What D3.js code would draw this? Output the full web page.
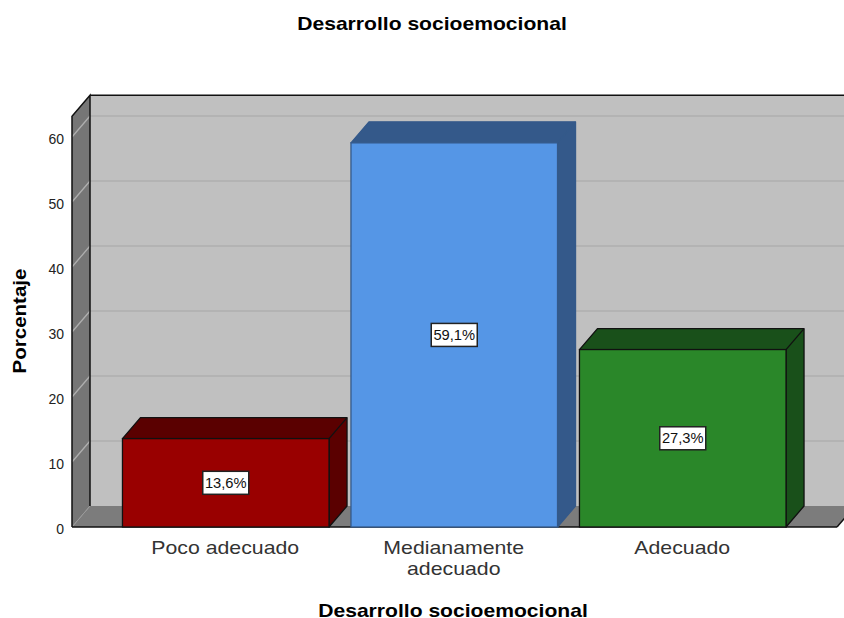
<!DOCTYPE html>
<html>
<head>
<meta charset="utf-8">
<script src="https://cdn.jsdelivr.net/npm/d3@7"></script>
<style>
  html, body { margin: 0; padding: 0; background: #fff; overflow: hidden; }
  text { font-family: "Liberation Sans", Arial, sans-serif; }
</style>
</head>
<body>
<div id="chart"></div>
<script>
var categories = [["Poco adecuado"], ["Medianamente", "adecuado"], ["Adecuado"]];
var values = [13.6, 59.1, 27.3];
var valueLabels = ["13,6%", "59,1%", "27,3%"];
var yTicks = [0, 10, 20, 30, 40, 50, 60];
var frontColors = ["#990000", "#5596e6", "#2a8729"];
var sideColors = ["#5a0000", "#34598a", "#19501a"];
var edgeColors = ["#111", "#34598a", "#111"];

var width = 844, height = 618;
var depthX = 18, depthY = 21; // 3d offset of the back wall
var left = 72, right = 837, bottom = 527;

var svg = d3.select("#chart").append("svg")
	.attr("width", width)
	.attr("height", height);

var y = d3.scaleLinear().domain([0, 60]).range([bottom, 137]);
var top_ = y(63.2);

var x = d3.scaleBand()
	.domain(d3.range(categories.length))
	.range([111.5, 797])
	.paddingInner(0.096)
	.paddingOuter(0.048);

function poly(pts) { return d3.line()(pts) + "Z"; }

// the reference text is wider than the installed font at the same height
function stretch(sel, factor) {
	sel.each(function() {
		d3.select(this)
			.attr("textLength", this.getComputedTextLength() * factor)
			.attr("lengthAdjust", "spacingAndGlyphs");
	});
	return sel;
}

// back wall, side wall, floor
svg.append("path")
	.attr("d", poly([[left + depthX, top_ - depthY], [right + depthX, top_ - depthY], [right + depthX, bottom - depthY], [left + depthX, bottom - depthY]]))
	.attr("fill", "#c0c0c0");
svg.append("path")
	.attr("d", poly([[left, top_], [left + depthX, top_ - depthY], [left + depthX, bottom - depthY], [left, bottom]]))
	.attr("fill", "#767676");
svg.append("path")
	.attr("d", poly([[left, bottom], [left + depthX, bottom - depthY], [right + depthX, bottom - depthY], [right, bottom]]))
	.attr("fill", "#7c7c7c");

// gridlines go along the side wall and then across the back
yTicks.slice(1).forEach(function(t) {
	svg.append("path")
		.attr("d", d3.line()([[left, y(t)], [left + depthX, y(t) - depthY], [right + depthX, y(t) - depthY]]))
		.attr("fill", "none")
		.attr("stroke", "#aeaeae")
		.attr("stroke-width", 1.3);
});
svg.append("line")
	.attr("x1", left).attr("y1", bottom)
	.attr("x2", left + depthX).attr("y2", bottom - depthY)
	.attr("stroke", "#9a9a9a");

// wall outlines
svg.append("path")
	.attr("d", d3.line()([[left, bottom], [left, top_], [left + depthX, top_ - depthY], [left + depthX, bottom - depthY]]))
	.attr("fill", "none")
	.attr("stroke", "#111")
	.attr("stroke-width", 1.5);
svg.append("line")
	.attr("x1", left + depthX).attr("y1", top_ - depthY)
	.attr("x2", width).attr("y2", top_ - depthY)
	.attr("stroke", "#111")
	.attr("stroke-width", 1.5);
svg.append("line")
	.attr("x1", left).attr("y1", bottom)
	.attr("x2", right).attr("y2", bottom)
	.attr("stroke", "#111")
	.attr("stroke-width", 1.5);
svg.append("line")
	.attr("x1", right).attr("y1", bottom)
	.attr("x2", right + depthX).attr("y2", bottom - depthY)
	.attr("stroke", "#111")
	.attr("stroke-width", 1.5);

// bars
var bars = svg.selectAll("g.bar")
	.data(values)
	.enter().append("g")
	.attr("class", "bar");

bars.append("path")
	.attr("d", function(d, i) {
		var x0 = x(i), x1 = x0 + x.bandwidth(), yt = y(d);
		return poly([[x0, yt], [x0 + depthX, yt - depthY], [x1 + depthX, yt - depthY], [x1 + depthX, bottom - depthY], [x1, bottom], [x1, yt]]);
	})
	.attr("fill", function(d, i) { return sideColors[i]; })
	.attr("stroke", function(d, i) { return edgeColors[i]; })
	.attr("stroke-width", 1.3)
	.attr("stroke-linejoin", "round");
bars.append("line")
	.attr("x1", function(d, i) { return x(i) + x.bandwidth(); })
	.attr("y1", function(d) { return y(d); })
	.attr("x2", function(d, i) { return x(i) + x.bandwidth() + depthX; })
	.attr("y2", function(d) { return y(d) - depthY; })
	.attr("stroke", function(d, i) { return edgeColors[i]; })
	.attr("stroke-width", 1.3);
bars.append("rect")
	.attr("x", function(d, i) { return x(i); })
	.attr("y", function(d) { return y(d); })
	.attr("width", x.bandwidth())
	.attr("height", function(d) { return bottom - y(d); })
	.attr("fill", function(d, i) { return frontColors[i]; })
	.attr("stroke", function(d, i) { return edgeColors[i]; })
	.attr("stroke-width", 1.3);

// value labels in the middle of each bar
bars.append("rect")
	.attr("x", function(d, i) { return x(i) + x.bandwidth() / 2 - 23; })
	.attr("y", function(d) { return (y(d) + bottom) / 2 - 11.5; })
	.attr("width", 46)
	.attr("height", 23)
	.attr("fill", "#fff")
	.attr("stroke", "#222")
	.attr("stroke-width", 1.5);
stretch(bars.append("text")
	.attr("x", function(d, i) { return x(i) + x.bandwidth() / 2; })
	.attr("y", function(d) { return (y(d) + bottom) / 2 + 5; })
	.attr("text-anchor", "middle")
	.style("font-size", "14px")
	.style("fill", "#111")
	.text(function(d, i) { return valueLabels[i]; }), 1.05);

// y axis
var yAxis = svg.append("g")
	.attr("transform", "translate(" + left + ",2)")
	.call(d3.axisLeft(y).tickValues(yTicks).tickSize(0).tickPadding(8));
yAxis.select(".domain").remove();
yAxis.selectAll("text")
	.style("font-family", '"Liberation Sans", Arial, sans-serif')
	.style("font-size", "14px")
	.style("fill", "#222");

// category labels
categories.forEach(function(lines, i) {
	lines.forEach(function(line, j) {
		stretch(svg.append("text")
			.attr("x", x(i) + x.bandwidth() / 2 - 0.5)
			.attr("y", 554 + j * 21)
			.attr("text-anchor", "middle")
			.style("font-size", "19px")
			.style("fill", "#333")
			.text(line), 1.12);
	});
});

// titles
stretch(svg.append("text")
	.attr("x", 432).attr("y", 29.5)
	.attr("text-anchor", "middle")
	.style("font-size", "19px")
	.style("font-weight", "bold")
	.text("Desarrollo socioemocional"), 1.11);
stretch(svg.append("text")
	.attr("x", 453).attr("y", 617)
	.attr("text-anchor", "middle")
	.style("font-size", "19px")
	.style("font-weight", "bold")
	.text("Desarrollo socioemocional"), 1.11);
stretch(svg.append("text")
	.attr("transform", "translate(25.5,321) rotate(-90)")
	.attr("text-anchor", "middle")
	.style("font-size", "19px")
	.style("font-weight", "bold")
	.text("Porcentaje"), 1.08);
</script>
</body>
</html>
